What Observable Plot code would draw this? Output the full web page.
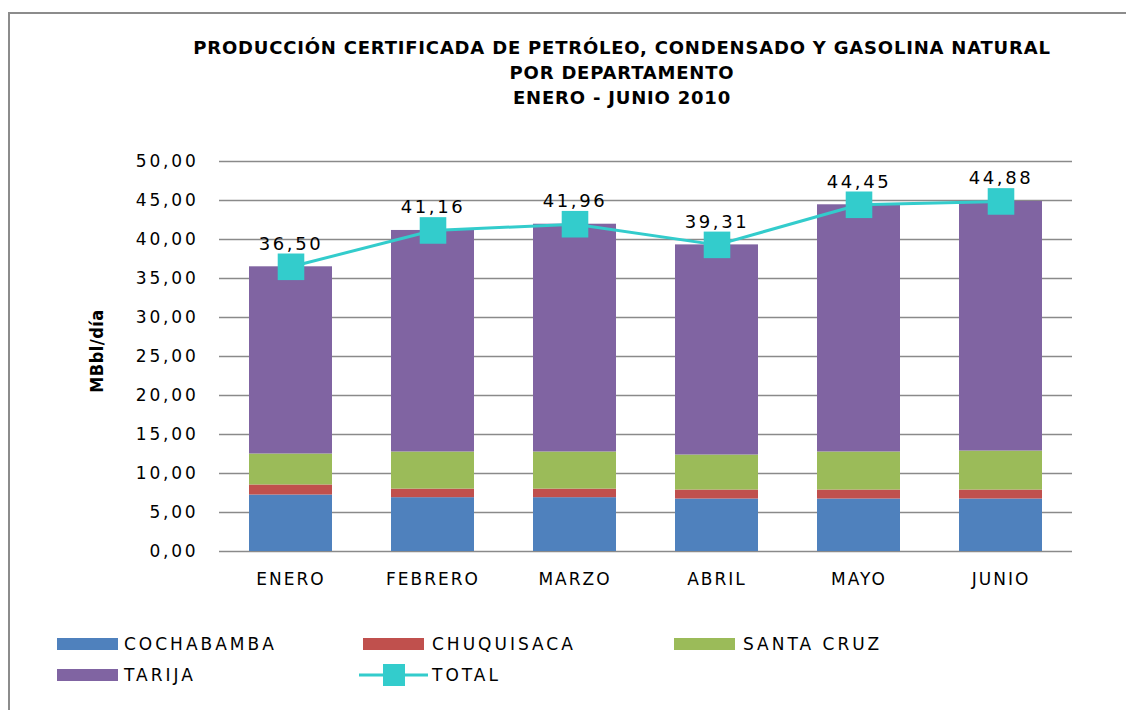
<!DOCTYPE html>
<html>
<head>
<meta charset="utf-8">
<script src="https://cdn.jsdelivr.net/npm/d3@7"></script>
<script src="https://cdn.jsdelivr.net/npm/@observablehq/plot@0.6"></script>
<style>
  body { margin: 0; background: #fff; }
  #root { position: relative; width: 1126px; height: 710px; overflow: hidden; background: #fff; }
  #frame { position: absolute; left: 8px; top: 12px; width: 1300px; height: 900px; border: 2px solid #8c8c8c; }
  #title { position: absolute; left: 142px; width: 960px; top: 35px; text-align: center;
           font-family: "DejaVu Sans"; font-weight: bold; font-size: 18px;
           line-height: 25px; letter-spacing: 0.8px; color: #000; }
  #ylabel { position: absolute; left: 96px; top: 351px; transform: translate(-50%, -50%) rotate(-90deg);
            font-family: "DejaVu Sans Condensed", "DejaVu Sans"; font-weight: bold; font-size: 18px;
            letter-spacing: 0.5px; white-space: nowrap; }
  #chart { position: absolute; left: 0; top: 130px; }
  #chart svg g[aria-label="y-axis tick label"] text { letter-spacing: 2.8px; }
  #chart svg g[aria-label="x-axis tick label"] text { letter-spacing: 2px; }
  #chart svg g[aria-label="text"] text { letter-spacing: 2.6px; }
  .leg { position: absolute; font-family: "DejaVu Sans"; font-size: 17px; letter-spacing: 3px; color: #000; line-height: 20px; }
  .sw { position: absolute; width: 61px; height: 12px; }
</style>
</head>
<body>
<div id="root">
  <div id="frame"></div>
  <div id="title"></div>
  <div id="ylabel"></div>
  <div id="chart"></div>
  <div id="legend"></div>
</div>
<script>
// ---- data ----
const titleLines = ["PRODUCCIÓN CERTIFICADA DE PETRÓLEO, CONDENSADO Y GASOLINA NATURAL", "POR DEPARTAMENTO", "ENERO - JUNIO 2010"];
const yLabel = "MBbl/día";
const months = ["ENERO", "FEBRERO", "MARZO", "ABRIL", "MAYO", "JUNIO"];
const departamentos = ["COCHABAMBA", "CHUQUISACA", "SANTA CRUZ", "TARIJA"];
const cochabamba = [7.24, 6.90, 6.90, 6.73, 6.73, 6.73];
const chuquisaca = [1.29, 1.10, 1.10, 1.15, 1.15, 1.15];
const santaCruz  = [3.97, 4.76, 4.76, 4.49, 4.88, 5.00];
const tarija     = [24.00, 28.40, 29.20, 26.94, 31.69, 32.00];
const total      = [36.50, 41.16, 41.96, 39.31, 44.45, 44.88];
const totalName = "TOTAL";
const yTicks = [0, 5, 10, 15, 20, 25, 30, 35, 40, 45, 50];
const colors = ["#4F81BD", "#C0504D", "#9BBB59", "#8064A2"];
const totalColor = "#33CCCC";

// ---- build tables ----
const series = [cochabamba, chuquisaca, santaCruz, tarija];
const stacked = [];
months.forEach((m, i) => {
  departamentos.forEach((d, j) => stacked.push({mes: m, depto: d, valor: series[j][i]}));
});
const totals = months.map((m, i) => ({mes: m, valor: total[i]}));
const fmt = v => v.toFixed(2).replace(".", ",");

document.getElementById("title").innerHTML = titleLines.map(t => `<div>${t}</div>`).join("");
document.getElementById("ylabel").textContent = yLabel;

const chart = Plot.plot({
  width: 1126,
  height: 480,
  marginLeft: 219,
  marginRight: 54,
  marginTop: 31,
  marginBottom: 59,
  style: {fontFamily: "DejaVu Sans", fontSize: "17px", color: "#000", background: "transparent", overflow: "visible"},
  x: {domain: months, paddingInner: 0.415, paddingOuter: 0.2075, label: null},
  y: {domain: [0, 50], label: null},
  color: {domain: departamentos, range: colors},
  marks: [
    Plot.ruleY(yTicks, {stroke: "#8a8a8a", strokeWidth: 1.5}),
    Plot.barY(stacked, {x: "mes", y: "valor", fill: "depto"}),
    Plot.line(totals, {x: "mes", y: "valor", stroke: totalColor, strokeWidth: 3}),
    Plot.dot(totals, {x: "mes", y: "valor", symbol: "square", r: 15, fill: totalColor, stroke: "none"}),
    Plot.text(totals, {x: "mes", y: "valor", text: d => fmt(d.valor), dy: -23, fontSize: 18, fill: "#000"}),
    Plot.axisY({ticks: yTicks, tickSize: 0, tickPadding: 21, tickFormat: fmt, fontSize: 17}),
    Plot.axisX({tickSize: 0, tickPadding: 21, fontSize: 17})
  ]
});
document.getElementById("chart").appendChild(chart);

// ---- legend ----
const legendItems = [
  {name: departamentos[0], color: colors[0], sx: 57, tx: 124, y: 644},
  {name: departamentos[1], color: colors[1], sx: 363, tx: 432, y: 644},
  {name: departamentos[2], color: colors[2], sx: 674, tx: 743, y: 644},
  {name: departamentos[3], color: colors[3], sx: 57, tx: 124, y: 675},
  {name: totalName, color: totalColor, sx: 363, tx: 432, y: 675, line: true}
];
const leg = document.getElementById("legend");
legendItems.forEach(it => {
  if (it.line) {
    leg.insertAdjacentHTML("beforeend",
      `<svg style="position:absolute;left:${it.sx - 4}px;top:${it.y - 12}px" width="69" height="24">
         <line x1="0" x2="69" y1="12" y2="12" stroke="${it.color}" stroke-width="3"/>
         <rect x="24" y="1" width="22" height="22" fill="${it.color}"/>
       </svg>`);
  } else {
    leg.insertAdjacentHTML("beforeend",
      `<div class="sw" style="left:${it.sx}px;top:${it.y - 6}px;background:${it.color}"></div>`);
  }
  leg.insertAdjacentHTML("beforeend",
    `<div class="leg" style="left:${it.tx}px;top:${it.y - 10}px">${it.name}</div>`);
});
</script>
</body>
</html>
